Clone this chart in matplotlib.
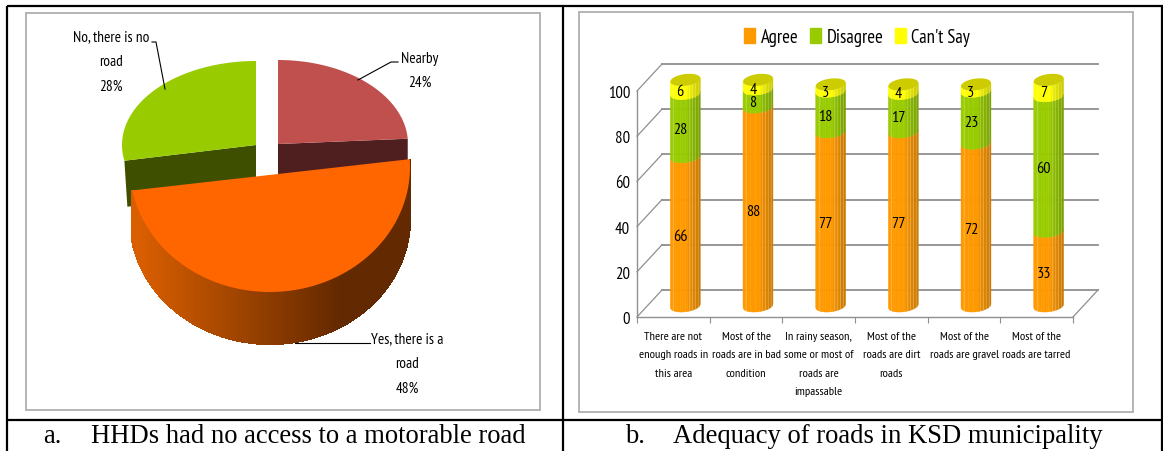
import numpy as np
import matplotlib
matplotlib.use("Agg")
import matplotlib.pyplot as plt
from matplotlib.patches import Patch, Polygon, Rectangle

pie_names = ["Nearby", "Yes, there is a\nroad", "No, there is no\nroad"]
pie_shares = [24, 48, 28]

categories = [
    "There are not\nenough roads in\nthis area",
    "Most of the\nroads are in bad\ncondition",
    "In rainy season,\nsome or most of\nroads are\nimpassable",
    "Most of the\nroads are dirt\nroads",
    "Most of the\nroads are gravel",
    "Most of the\nroads are tarred",
]
agree = [66, 88, 77, 77, 72, 33]
disagree = [28, 8, 18, 17, 23, 60]
cant_say = [6, 4, 3, 4, 3, 7]
y_ticks = [0, 20, 40, 60, 80, 100]

W, H = 1163, 452
NARROW = ["PT Sans Narrow", "Liberation Sans", "DejaVu Sans"]
SERIF = ["Liberation Serif", "DejaVu Serif"]
GRID = "#8f8f8f"

fig = plt.figure(figsize=(W / 100, H / 100), dpi=100, facecolor="white")

# page layer in pixel units, used for the table rules, panels and the pie
page = fig.add_axes([0, 0, 1, 1])
page.set_xlim(0, W)
page.set_ylim(H, 0)
page.axis("off")


def arc(cx, cy, rx, ry, a0, a1, n=120):
    t = np.radians(np.linspace(a0, a1, n))
    return cx + rx * np.cos(t), cy - ry * np.sin(t)


for x0, y0, x1, y1 in [(7, 7, W, 7), (7, 420.5, W, 420.5), (7, 7, 7, H), (563, 7, 563, H), (1161.5, 7, 1161.5, H)]:
    page.plot([x0, x1], [y0, y1], color="black", lw=1.6, solid_capstyle="butt")

for x0, y0, x1, y1 in [(26, 14, 540, 411), (579, 13, 1133, 413)]:
    page.add_patch(Rectangle((x0, y0), x1 - x0, y1 - y0, fc="white", ec="#b4b4b4", lw=1.4))

page.text(43, 437, "a.", family=SERIF, fontsize=19.2, va="center")
page.text(91, 437, "HHDs had no access to a motorable road", family=SERIF, fontsize=19.2, va="center")
page.text(625, 437, "b.", family=SERIF, fontsize=19.2, va="center")
page.text(673, 437, "Adequacy of roads in KSD municipality", family=SERIF, fontsize=19.2, va="center")

# slices run clockwise from twelve o'clock
angles = 90 - np.cumsum([0] + pie_shares) * 3.6
near0, near1 = angles[0], angles[1]
yes0, yes1 = angles[1], angles[2]
no0, no1 = angles[2], angles[3]

# sides of the two back slices
depth = 46
x, y = arc(278, 145, 130, 84, near1, near1, 1)
page.add_patch(Polygon([(278, 145), (x[0], y[0]), (x[0], y[0] + depth), (278, 145 + depth)], fc="#4f1f1f", lw=0))
x, y = arc(256, 146, 134, 84, no0, no0, 1)
page.add_patch(Polygon([(256, 146), (x[0], y[0]), (x[0] + 3, y[0] + depth), (256, 146 + depth)], fc="#3f4f00", lw=0))

# top faces of the two back slices
x, y = arc(278, 145, 130, 84, near0, near1)
page.fill(np.r_[278, x], np.r_[145, y], color="#c0504d", lw=0)
x, y = arc(256, 146, 134, 84, no0, no1)
page.fill(np.r_[256, x], np.r_[146, y], color="#99cc00", lw=0)

# exploded slice, rim shaded from left to right
cx, cy, rx, ry, rim = 270, 168, 140, 125, 52
left = np.array([0.85, 0.37, 0.0])
right = np.array([0.39, 0.16, 0.0])
t = np.linspace(yes1, yes0, 150)
for a, b in zip(t[:-1], t[1:]):
    xa, ya = arc(cx, cy, rx, ry, a, b, 2)
    f = np.clip((xa[0] - 140) / 200, 0, 1)
    page.fill([xa[0], xa[1], xa[1], xa[0]], [ya[0], ya[1], ya[1] + rim, ya[0] + rim],
              color=left + (right - left) * f, lw=0.8, antialiased=False)
x, y = arc(cx, cy, rx, ry, yes0, yes1)
page.fill(x, y, color="#ff6600", lw=0)

# leader lines and slice labels
page.plot([152, 156, 165], [43, 43, 90], color="black", lw=0.8)
page.plot([398, 391, 358], [63, 63, 81], color="black", lw=0.8)
page.plot([295, 370], [344, 344], color="black", lw=0.8)
for name, share, tx, ty in zip(pie_names, pie_shares, [420, 407, 111], [71, 364, 62]):
    page.text(tx, ty, "%s\n%d%%" % (name, share), family=NARROW, fontsize=11, ha="center", va="center", linespacing=1.95)

# stacked columns on the front plane of the 3D frame
ax = fig.add_axes([637 / W, 1 - 318 / H, (1073 - 637) / W, (318 - 92) / H])
ax.patch.set_alpha(0)
ax.set_xlim(0, 6)
ax.set_ylim(0, 100)
for side in ["top", "right"]:
    ax.spines[side].set_visible(False)
for side in ["left", "bottom"]:
    ax.spines[side].set_color(GRID)
    ax.spines[side].set_linewidth(1.0)

back_x, back_y = 25 / 72.67, 27 / 2.26
for v in y_ticks:
    ax.plot([0, back_x], [v, v + back_y], color=GRID, lw=0.9, clip_on=False)
    ax.plot([back_x, 6 + back_x], [v + back_y, v + back_y], color=GRID, lw=1.3, clip_on=False)
ax.plot([6, 6 + back_x], [0, back_y], color=GRID, lw=0.9, clip_on=False)

ax.set_yticks(y_ticks)
ax.set_xticks(range(7))
ax.set_xticklabels([])
ax.set_xticks(np.arange(6) + 0.5, categories, minor=True, family=NARROW, fontsize=8.9, linespacing=2.05, va="top")
ax.tick_params(axis="x", which="major", length=4, color=GRID)
ax.tick_params(axis="x", which="minor", length=0, pad=10)
ax.tick_params(axis="y", length=0, pad=5)
for label in ax.get_yticklabels():
    label.set_family(NARROW)
    label.set_fontsize(12)

half_w = 0.206
half_h = 2.6
tilt = 0.75
lift = 4.9
shift = 0.165
streaks = [-0.8, 0.25, 0.45, 0.65, 0.85]


def front_edge(value, uu):
    return value + lift + tilt * uu - half_h * np.sqrt(1 - uu ** 2)


def column_part(xc, low, high, color):
    color = np.array(matplotlib.colors.to_rgb(color))
    edges = np.linspace(-1, 1, 13)
    for a, b in zip(edges[:-1], edges[1:]):
        uu = np.linspace(a, b, 6)
        shade = 1.0 if a < 0.1 else 1.0 - 0.22 * (a + 0.1)
        xs = xc + half_w * uu
        ax.fill(np.r_[xs, xs[::-1]], np.r_[front_edge(low, uu), front_edge(high, uu)[::-1]],
                color=color * shade, lw=0.3, clip_on=False, zorder=3)
    for s in streaks:
        ax.plot([xc + half_w * s] * 2, [front_edge(low, s), front_edge(high, s)],
                color="white", alpha=0.22, lw=0.7, clip_on=False, zorder=3)


for i in range(6):
    xc = i + 0.5 + shift
    a, d, c = agree[i], disagree[i], cant_say[i]
    column_part(xc, 0, a, "#ff9900")
    column_part(xc, a, a + d, "#99cc00")
    column_part(xc, a + d, a + d + c, "#ffff00")
    t = np.linspace(0, 2 * np.pi, 80)
    top = a + d + c + lift
    ax.fill(xc + half_w * np.cos(t), top + tilt * np.cos(t) + half_h * np.sin(t),
            color="#cccc00", lw=0, clip_on=False, zorder=4)
    base = 0
    for v in [a, d, c]:
        ax.text(xc - 0.07, base + v / 2 + 3.0, str(v), family=NARROW, fontsize=11.5,
                ha="center", va="center", color="black", zorder=5, clip_on=False)
        base += v

handles = [Patch(color="#ff9900", label="Agree"), Patch(color="#99cc00", label="Disagree"),
           Patch(color="#ffff00", label="Can't Say")]
ax.legend(handles=handles, ncol=3, frameon=False, loc="center", bbox_to_anchor=(857 / W, 1 - 38 / H),
          bbox_transform=fig.transFigure, prop={"family": NARROW, "size": 13.5}, handlelength=0.6,
          handleheight=0.85, handletextpad=0.3, columnspacing=0.6, borderpad=0)

fig.savefig("out.png", dpi=100)
